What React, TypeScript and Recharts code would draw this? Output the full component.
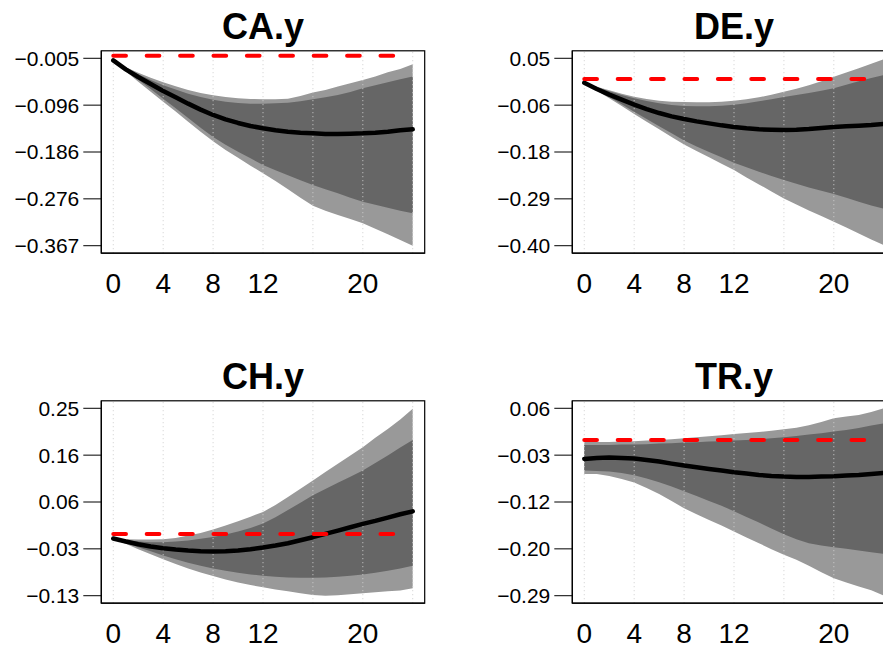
import React from 'react';
import { ComposedChart, Area, Line, XAxis, YAxis, ReferenceLine } from 'recharts';

// ---------- data ----------
const HORIZONS = [0, 1, 2, 3, 4, 5, 6, 7, 8, 9, 10, 11, 12, 13, 14, 15, 16, 17, 18, 19, 20, 21, 22, 23, 24];
const X_TICKS = [0, 4, 8, 12, 20];
const GRID_X = [0, 4, 8, 12, 16, 20, 24];

// CA.y
const CA_MEDIAN = [-0.009, -0.0263, -0.0411, -0.0546, -0.0681, -0.0803, -0.0926, -0.1042, -0.1145, -0.1229, -0.1299, -0.1357, -0.1402, -0.1441, -0.1467, -0.1486, -0.1499, -0.1512, -0.1512, -0.1506, -0.1499, -0.1486, -0.1467, -0.1441, -0.1422];
const CA_INNER_HI = [-0.009, -0.0243, -0.0359, -0.0469, -0.0572, -0.0655, -0.0733, -0.0797, -0.0849, -0.0887, -0.0913, -0.0926, -0.0926, -0.0919, -0.0907, -0.0881, -0.0842, -0.0803, -0.0758, -0.07, -0.063, -0.0572, -0.0514, -0.0456, -0.0404];
const CA_INNER_LO = [-0.009, -0.0288, -0.0462, -0.0642, -0.0829, -0.1016, -0.1203, -0.139, -0.157, -0.1718, -0.1853, -0.1982, -0.2111, -0.2214, -0.231, -0.2407, -0.2497, -0.2581, -0.2658, -0.2742, -0.2819, -0.2877, -0.2935, -0.2993, -0.3045];
const CA_OUTER_HI = [-0.009, -0.0224, -0.0327, -0.0424, -0.0514, -0.0591, -0.0662, -0.072, -0.0765, -0.0797, -0.0823, -0.0836, -0.0842, -0.0842, -0.0829, -0.0778, -0.0713, -0.0662, -0.0597, -0.0533, -0.0469, -0.0404, -0.0321, -0.0256, -0.0166];
const CA_OUTER_LO = [-0.009, -0.0301, -0.0501, -0.0694, -0.0887, -0.108, -0.1274, -0.1467, -0.1654, -0.1821, -0.1969, -0.2124, -0.2272, -0.242, -0.2581, -0.2742, -0.2896, -0.2993, -0.3077, -0.3154, -0.3238, -0.3341, -0.345, -0.356, -0.3669];
const CA_Y_LIMITS = [-0.367, -0.005];
const CA_Y_LABELS = ['\u22120.367', '\u22120.276', '\u22120.186', '\u22120.096', '\u22120.005'];

// DE.y
const DE_MEDIAN = [-0.0085, -0.0237, -0.0373, -0.0493, -0.0613, -0.0718, -0.0814, -0.0894, -0.0958, -0.1014, -0.1062, -0.111, -0.115, -0.1182, -0.1206, -0.1214, -0.1222, -0.1214, -0.1198, -0.1174, -0.115, -0.1134, -0.1118, -0.1102, -0.1078];
const DE_INNER_HI = [-0.0085, -0.0197, -0.0293, -0.0381, -0.0461, -0.0525, -0.0581, -0.0621, -0.0645, -0.0653, -0.0653, -0.0637, -0.0613, -0.0581, -0.0533, -0.0485, -0.0429, -0.0381, -0.0333, -0.0277, -0.0221, -0.0133, -0.0053, 0.0027, 0.0099];
const DE_INNER_LO = [-0.0085, -0.0261, -0.0429, -0.0605, -0.0782, -0.0958, -0.1134, -0.1302, -0.1471, -0.1615, -0.1751, -0.1879, -0.2007, -0.2119, -0.2223, -0.2328, -0.2424, -0.2512, -0.26, -0.268, -0.276, -0.2848, -0.2944, -0.3032, -0.3113];
const DE_OUTER_HI = [-0.0085, -0.0181, -0.0269, -0.0349, -0.0421, -0.0477, -0.0517, -0.0541, -0.0549, -0.0557, -0.0557, -0.0541, -0.0517, -0.0485, -0.0437, -0.0373, -0.0301, -0.0229, -0.0149, -0.0053, 0.0059, 0.0156, 0.026, 0.0372, 0.0476];
const DE_OUTER_LO = [-0.0085, -0.0277, -0.0461, -0.0645, -0.0838, -0.1022, -0.1206, -0.139, -0.1567, -0.1727, -0.1879, -0.2031, -0.2183, -0.236, -0.2528, -0.2696, -0.2864, -0.3008, -0.3153, -0.3289, -0.3425, -0.3561, -0.3705, -0.385, -0.3986];
const DE_Y_LIMITS = [-0.4, 0.05];
const DE_Y_LABELS = ['\u22120.40', '\u22120.29', '\u22120.18', '\u22120.06', '0.05'];

// CH.y
const CH_MEDIAN = [-0.0094, -0.0155, -0.0209, -0.0256, -0.029, -0.0317, -0.0337, -0.035, -0.0357, -0.035, -0.0337, -0.031, -0.0276, -0.0236, -0.0189, -0.0128, -0.0067, 0.0, 0.0067, 0.0135, 0.0202, 0.0263, 0.033, 0.0398, 0.0458];
const CH_INNER_HI = [-0.0094, -0.0128, -0.0155, -0.0169, -0.0169, -0.0155, -0.0135, -0.0101, -0.0061, -0.0013, 0.0047, 0.0121, 0.0209, 0.0337, 0.0485, 0.0634, 0.0782, 0.091, 0.1038, 0.1159, 0.1287, 0.1436, 0.1591, 0.1752, 0.1907];
const CH_INNER_LO = [-0.0094, -0.0182, -0.027, -0.035, -0.0438, -0.0512, -0.0586, -0.0647, -0.0701, -0.0748, -0.0789, -0.0822, -0.0849, -0.0869, -0.0883, -0.089, -0.089, -0.0883, -0.0869, -0.0849, -0.0822, -0.0789, -0.0748, -0.0701, -0.0647];
const CH_OUTER_HI = [-0.0094, -0.0108, -0.0115, -0.0115, -0.0108, -0.0081, -0.0034, 0.002, 0.0088, 0.0169, 0.0256, 0.035, 0.0445, 0.0586, 0.0748, 0.0917, 0.1085, 0.1254, 0.1422, 0.1591, 0.1759, 0.1948, 0.213, 0.2319, 0.2541];
const CH_OUTER_LO = [-0.0094, -0.0202, -0.031, -0.0411, -0.0512, -0.0613, -0.0701, -0.0782, -0.0856, -0.0923, -0.0984, -0.1038, -0.1085, -0.1126, -0.1166, -0.1206, -0.124, -0.1254, -0.1247, -0.1227, -0.1206, -0.1186, -0.1166, -0.1146, -0.1105];
const CH_Y_LIMITS = [-0.1254, 0.2548];
const CH_Y_LABELS = ['\u22120.13', '\u22120.03', '0.06', '0.16', '0.25'];

// TR.y
const TR_MEDIAN = [-0.0355, -0.0337, -0.0331, -0.0337, -0.0349, -0.0374, -0.0405, -0.0443, -0.048, -0.0511, -0.0542, -0.0573, -0.0604, -0.0629, -0.0654, -0.0673, -0.0685, -0.0691, -0.0691, -0.0685, -0.0679, -0.0666, -0.0654, -0.0635, -0.0617];
const TR_INNER_HI = [-0.0094, -0.0094, -0.0094, -0.0088, -0.0088, -0.0082, -0.0069, -0.0063, -0.0051, -0.0044, -0.0032, -0.0026, -0.0013, -0.0001, 0.0012, 0.003, 0.0049, 0.0074, 0.0099, 0.0124, 0.0155, 0.0186, 0.0223, 0.0267, 0.031];
const TR_INNER_LO = [-0.0573, -0.0579, -0.0592, -0.0617, -0.066, -0.0722, -0.0791, -0.0872, -0.0959, -0.1046, -0.1139, -0.1232, -0.1332, -0.1438, -0.1543, -0.1655, -0.1761, -0.1854, -0.1929, -0.1973, -0.2004, -0.2035, -0.2066, -0.2097, -0.2128];
const TR_OUTER_HI = [-0.0032, -0.0038, -0.0038, -0.0032, -0.0026, -0.0013, -0.0001, 0.0012, 0.003, 0.0049, 0.0068, 0.0086, 0.0111, 0.013, 0.0148, 0.0173, 0.0198, 0.0229, 0.0273, 0.0335, 0.0403, 0.0435, 0.0466, 0.0522, 0.059];
const TR_OUTER_LO = [-0.0635, -0.0635, -0.0673, -0.0729, -0.0797, -0.0897, -0.1009, -0.1139, -0.1276, -0.1388, -0.1494, -0.1599, -0.1711, -0.1823, -0.1929, -0.2041, -0.2147, -0.224, -0.2352, -0.247, -0.2582, -0.2663, -0.2738, -0.2806, -0.2906];
const TR_Y_LIMITS = [-0.291, 0.059];
const TR_Y_LABELS = ['\u22120.29', '\u22120.20', '\u22120.12', '\u22120.03', '0.06'];

const PANELS = [
  { title: 'CA.y', median: CA_MEDIAN, innerHi: CA_INNER_HI, innerLo: CA_INNER_LO, outerHi: CA_OUTER_HI, outerLo: CA_OUTER_LO, limits: CA_Y_LIMITS, labels: CA_Y_LABELS },
  { title: 'DE.y', median: DE_MEDIAN, innerHi: DE_INNER_HI, innerLo: DE_INNER_LO, outerHi: DE_OUTER_HI, outerLo: DE_OUTER_LO, limits: DE_Y_LIMITS, labels: DE_Y_LABELS },
  { title: 'CH.y', median: CH_MEDIAN, innerHi: CH_INNER_HI, innerLo: CH_INNER_LO, outerHi: CH_OUTER_HI, outerLo: CH_OUTER_LO, limits: CH_Y_LIMITS, labels: CH_Y_LABELS },
  { title: 'TR.y', median: TR_MEDIAN, innerHi: TR_INNER_HI, innerLo: TR_INNER_LO, outerHi: TR_OUTER_HI, outerLo: TR_OUTER_LO, limits: TR_Y_LIMITS, labels: TR_Y_LABELS },
];

// ---------- layout ----------
const PANEL_POS = [
  { left: 0, top: 0 },
  { left: 470.7, top: 0 },
  { left: 0, top: 349.5 },
  { left: 470.7, top: 349.5 },
];
const CHART_W = 470;
const CHART_H = 350;
const PLOT_LEFT = 101.3;
const PLOT_TOP = 50.8;
const PLOT_W = 323.4;
const PLOT_H = 202.4;
const XAXIS_H = 40;
const FONT = '"Liberation Sans", Arial, Helvetica, sans-serif';

const LIGHT = '#999999';
const DARK = '#666666';

type PanelDef = (typeof PANELS)[number];

function Panel({ p, left, top }: { p: PanelDef; left: number; top: number }) {
  const rows = HORIZONS.map((h, i) => ({
    h,
    med: p.median[i],
    outer: [p.outerLo[i], p.outerHi[i]],
    inner: [p.innerLo[i], p.innerHi[i]],
  }));
  const [lo, hi] = p.limits;
  const span = hi - lo;
  const yDomain = [lo - span * 0.04, hi + span * 0.04];
  const yTicks = p.labels.map((_, k) => lo + (span * k) / (p.labels.length - 1));
  const xFirst = HORIZONS[0];
  const xLast = HORIZONS[HORIZONS.length - 1];
  const xPad = (xLast - xFirst) * 0.04;
  const xDomain = [xFirst - xPad, xLast + xPad];

  return (
    <div style={{ position: 'absolute', left, top, width: CHART_W, height: CHART_H }}>
      <ComposedChart
        width={CHART_W}
        height={CHART_H}
        data={rows}
        margin={{ top: PLOT_TOP, right: CHART_W - PLOT_LEFT - PLOT_W, bottom: CHART_H - PLOT_TOP - PLOT_H - XAXIS_H, left: 0 }}
      >
        <XAxis
          xAxisId="b"
          dataKey="h"
          type="number"
          domain={xDomain}
          allowDataOverflow
          ticks={X_TICKS}
          interval={0}
          tickLine={false}
          tickSize={0}
          tickMargin={20}
          height={XAXIS_H}
          axisLine={{ stroke: '#000', strokeWidth: 1.2 }}
          tick={{ fill: '#000', fontSize: 28, fontFamily: FONT }}
        />
        <YAxis
          yAxisId="l"
          type="number"
          domain={yDomain}
          allowDataOverflow
          ticks={yTicks}
          interval={0}
          tickFormatter={(_v: number, i: number) => p.labels[i]}
          width={PLOT_LEFT}
          tickSize={18}
          tickMargin={4}
          tickLine={{ stroke: '#000', strokeWidth: 1 }}
          axisLine={{ stroke: '#000', strokeWidth: 1.2 }}
          tick={{ fill: '#000', fontSize: 21, fontFamily: FONT }}
        />
        <Area
          xAxisId="b"
          yAxisId="l"
          type="linear"
          dataKey="outer"
          stroke="none"
          fill={LIGHT}
          fillOpacity={1}
          isAnimationActive={false}
          dot={false}
          activeDot={false}
        />
        <Area
          xAxisId="b"
          yAxisId="l"
          type="linear"
          dataKey="inner"
          stroke="none"
          fill={DARK}
          fillOpacity={1}
          isAnimationActive={false}
          dot={false}
          activeDot={false}
        />
        {GRID_X.map((g) => (
          <ReferenceLine
            key={'g' + g}
            xAxisId="b"
            yAxisId="l"
            x={g}
            stroke="#cfcfcf"
            strokeWidth={1}
            strokeDasharray="1 3"
          />
        ))}
        <Line
          xAxisId="b"
          yAxisId="l"
          type="linear"
          dataKey="med"
          stroke="#000"
          strokeWidth={4.5}
          strokeLinecap="round"
          strokeLinejoin="round"
          dot={false}
          activeDot={false}
          isAnimationActive={false}
        />
        <ReferenceLine
          xAxisId="b"
          yAxisId="l"
          segment={[{ x: xFirst, y: 0 }, { x: xLast, y: 0 }]}
          stroke="#ff0000"
          strokeWidth={4}
          strokeDasharray="12.7 20.7"
          strokeLinecap="round"
        />
      </ComposedChart>
      <svg
        width={CHART_W}
        height={CHART_H}
        style={{ position: 'absolute', left: 0, top: 0, pointerEvents: 'none', overflow: 'visible' }}
      >
        <rect
          x={PLOT_LEFT}
          y={PLOT_TOP}
          width={PLOT_W}
          height={PLOT_H}
          fill="none"
          stroke="#000"
          strokeWidth={1.2}
        />
        <text
          x={PLOT_LEFT + PLOT_W / 2}
          y={39}
          textAnchor="middle"
          fontSize={36}
          fontWeight="bold"
          fontFamily={FONT}
          fill="#000"
        >
          {p.title}
        </text>
      </svg>
    </div>
  );
}

export default function App() {
  return (
    <div
      style={{
        position: 'fixed',
        left: 0,
        top: 0,
        width: 883,
        height: 647,
        overflow: 'hidden',
        background: '#fff',
      }}
    >
      {PANELS.map((p, i) => (
        <Panel key={p.title} p={p} left={PANEL_POS[i].left} top={PANEL_POS[i].top} />
      ))}
    </div>
  );
}
